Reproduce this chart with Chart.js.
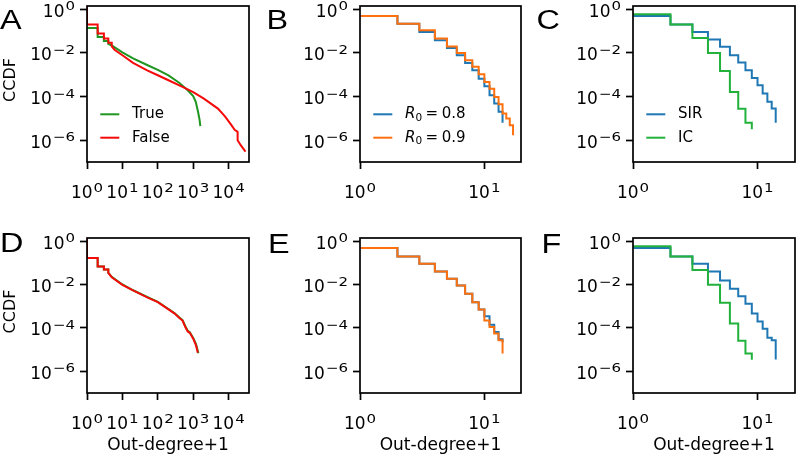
<!DOCTYPE html>
<html><head><meta charset="utf-8">
<script src="https://cdn.jsdelivr.net/npm/chart.js@4"></script>
<style>
html,body{margin:0;padding:0;background:#fff;}
#wrap{position:relative;width:797px;height:464px;overflow:hidden;background:#fff;}
#wrap canvas{position:absolute;}
</style></head><body><div id="wrap"></div>
<script>
// ---------- tick values & labels (10^exp) ----------
const xTicksWide = [1, 10, 100, 1000, 10000];
const xTickExpsWide = ['0', '1', '2', '3', '4'];
const xTicksNarrow = [1, 10];
const xTickExpsNarrow = ['0', '1'];
const yTicks = [1e-6, 1e-4, 1e-2, 1];
const yTickExps = ['\u22126', '\u22124', '\u22122', '0'];

// ---------- panel A ----------
const aTrueX = [1, 2, 2, 3, 3, 4, 4, 5, 10, 20, 50, 100, 200, 400, 700, 1000, 1180, 1370, 1520, 1590];
const aTrueY = [0.14, 0.14, 0.054, 0.054, 0.035, 0.035, 0.026, 0.022, 0.0107, 5.6e-3, 2.8e-3, 1.66e-3, 9.3e-4, 4.3e-4, 1.95e-4, 1.05e-4, 5.8e-5, 2.0e-5, 8.3e-6, 4.4e-6];
const aFalseX = [1, 1, 2, 2, 3, 3, 4, 4, 5, 5, 6, 10, 20, 50, 100, 200, 500, 1000, 2000, 5000, 8000, 12000, 15000, 17000, 18000, 18000, 22000, 30000];
const aFalseY = [1.5, 0.20, 0.20, 0.078, 0.078, 0.046, 0.046, 0.029, 0.029, 0.020, 0.014, 7.8e-3, 3.5e-3, 1.6e-3, 9.5e-4, 5.6e-4, 2.8e-4, 1.6e-4, 8.1e-5, 2.8e-5, 1.2e-5, 4.9e-6, 2.9e-6, 2.6e-6, 2.4e-6, 1.0e-6, 5.9e-7, 3.0e-7];

// ---------- panel D ----------
const dTrueX = [1, 2, 2, 3, 3, 4, 4, 5, 10, 20, 50, 100, 200, 300, 400, 500, 600, 700, 800, 1000, 1200, 1400];
const dTrueY = [0.17, 0.17, 0.068, 0.068, 0.050, 0.050, 0.035, 0.023, 0.0102, 5.5e-3, 2.7e-3, 1.6e-3, 7.5e-4, 4.8e-4, 3.1e-4, 2.3e-4, 1.2e-4, 7.5e-5, 6.4e-5, 3.5e-5, 1.8e-5, 6.8e-6];
const dFalseX = [1, 1, 2, 2, 3, 3, 4, 4, 5, 10, 20, 50, 100, 200, 300, 400, 500, 600, 700, 800, 1000, 1200, 1350];
const dFalseY = [1.5, 0.17, 0.17, 0.068, 0.068, 0.050, 0.050, 0.035, 0.022, 9.8e-3, 5.4e-3, 2.6e-3, 1.55e-3, 7.2e-4, 4.6e-4, 3.0e-4, 2.2e-4, 1.1e-4, 6.9e-5, 6.0e-5, 3.2e-5, 1.6e-5, 7.2e-6];

// ---------- panel B ----------
const bDeg08 = [1, 2, 3, 4, 5, 6, 7, 8, 9, 10, 11, 12, 13, 14];
const bCcdf08 = [0.49, 0.22, 0.091, 0.038, 0.017, 7.9e-3, 3.5e-3, 1.6e-3, 6.6e-4, 3.0e-4, 1.15e-4, 4.8e-5, 2.0e-5, 6.3e-6];
const bDeg09 = [1, 2, 3, 4, 5, 6, 7, 8, 9, 10, 11, 12, 13, 14, 15, 16, 17];
const bCcdf09 = [0.49, 0.22, 0.11, 0.046, 0.020, 0.010, 4.6e-3, 2.3e-3, 1.05e-3, 4.7e-4, 2.3e-4, 9.5e-5, 4.5e-5, 1.66e-5, 1.0e-5, 4.9e-6, 1.7e-6];

// ---------- panel C ----------
const cDegSIR = [1, 2, 3, 4, 5, 6, 7, 8, 9, 10, 11, 12, 13, 14];
const cCcdfSIR = [0.49, 0.20, 0.091, 0.041, 0.019, 7.9e-3, 3.6e-3, 1.6e-3, 7.1e-4, 3.3e-4, 1.4e-4, 5.8e-5, 2.8e-5, 6.3e-6];
const cDegIC = [1, 2, 3, 4, 5, 6, 7, 8, 9];
const cCcdfIC = [0.59, 0.20, 0.049, 0.010, 1.5e-3, 1.6e-4, 2.75e-5, 6.3e-6, 3.2e-6];

// ---------- panel E ----------
const eDeg08 = [1, 2, 3, 4, 5, 6, 7, 8, 9, 10, 11, 12, 13, 14];
const eCcdf08 = [0.49, 0.20, 0.091, 0.040, 0.0186, 9.1e-3, 3.8e-3, 1.55e-3, 7.2e-4, 3.5e-4, 1.4e-4, 6.5e-5, 3.0e-5, 2.2e-5];
const eDeg09 = [1, 2, 3, 4, 5, 6, 7, 8, 9, 10, 11, 12, 13, 14];
const eCcdf09 = [0.49, 0.20, 0.091, 0.040, 0.0186, 9.1e-3, 3.8e-3, 1.55e-3, 7.2e-4, 2.2e-4, 1.1e-4, 5.5e-5, 2.7e-5, 6.6e-6];

// ---------- panel F ----------
const fDegSIR = [1, 2, 3, 4, 5, 6, 7, 8, 9, 10, 11, 12, 13, 14];
const fCcdfSIR = [0.49, 0.20, 0.091, 0.040, 0.0155, 6.5e-3, 2.95e-3, 1.3e-3, 4.6e-4, 2.0e-4, 9.3e-5, 3.5e-5, 2.7e-5, 3.5e-6];
const fDegIC = [1, 2, 3, 4, 5, 6, 7, 8, 9];
const fCcdfIC = [0.59, 0.20, 0.048, 0.010, 1.45e-3, 1.6e-4, 2.6e-5, 6.6e-6, 3.4e-6];

// ---------- styles ----------
const GREEN_A = '#1f961f', RED = '#f50a0a', BLUE = '#1f77b4', ORANGE = '#ff700f', GREEN_C = '#22b23c';
const FONT = '"DejaVu Sans", sans-serif';
const LINE_W = 2;
const SUP_SIZE = 12.5, SUP_STRETCH = 1.2;

const wrap = document.getElementById('wrap');

// draw "10" with a superscript exponent
function drawPow(ctx, exp, x, baseline, align) {
  ctx.font = '17px ' + FONT;
  const wb = ctx.measureText('10').width;
  ctx.font = SUP_SIZE + 'px ' + FONT;
  const ws = ctx.measureText(exp).width * SUP_STRETCH;
  const total = wb + 1 + ws;
  const x0 = align === 'center' ? x - total / 2 : x - total;
  ctx.textAlign = 'left'; ctx.textBaseline = 'alphabetic'; ctx.fillStyle = '#000';
  ctx.font = '17px ' + FONT;
  ctx.fillText('10', x0, baseline);
  ctx.save();
  ctx.translate(x0 + wb + 1, baseline - 6.5);
  ctx.scale(SUP_STRETCH, 1);
  ctx.font = SUP_SIZE + 'px ' + FONT;
  ctx.fillText(exp, 0, 0);
  ctx.restore();
}

function makePanel(cfg) {
  const c = document.createElement('canvas');
  c.width = cfg.w; c.height = cfg.h;
  c.style.left = cfg.cx + 'px'; c.style.top = cfg.cy + 'px';
  c.style.width = cfg.w + 'px'; c.style.height = cfg.h + 'px';
  wrap.appendChild(c);

  const decor = {
    id: 'decor',
    afterDraw(chart) {
      const ctx = chart.ctx, a = chart.chartArea;
      const xs = chart.scales.x, ys = chart.scales.y;
      ctx.save();
      // frame
      ctx.strokeStyle = '#000'; ctx.lineWidth = 1.7;
      ctx.strokeRect(a.left, a.top, a.right - a.left, a.bottom - a.top);
      // tick labels
      cfg.xticks.forEach((v, i) => drawPow(ctx, cfg.xexps[i], xs.getPixelForValue(v), a.bottom + 36, 'center'));
      yTicks.forEach((v, i) => drawPow(ctx, yTickExps[i], a.left - 12, ys.getPixelForValue(v) + 7.5, 'right'));
      // axis titles
      ctx.fillStyle = '#000';
      if (cfg.ytitle) {
        ctx.save();
        ctx.translate(11, (a.top + a.bottom) / 2 - 4);
        ctx.rotate(-Math.PI / 2);
        ctx.font = '16px ' + FONT; ctx.textAlign = 'center'; ctx.textBaseline = 'middle';
        ctx.fillText(cfg.ytitle, 0, 0);
        ctx.restore();
      }
      if (cfg.xtitle) {
        ctx.font = '17px ' + FONT; ctx.textAlign = 'center'; ctx.textBaseline = 'alphabetic';
        ctx.fillText(cfg.xtitle, (a.left + a.right) / 2, a.bottom + 56.5);
      }
      // legend
      if (cfg.legend) {
        cfg.legend.forEach((it, k) => {
          const y = a.top + 108.3 + k * 23.4;
          ctx.strokeStyle = it.color; ctx.lineWidth = LINE_W;
          ctx.beginPath(); ctx.moveTo(a.left + 13.3, y); ctx.lineTo(a.left + 32.3, y); ctx.stroke();
          ctx.fillStyle = '#000'; ctx.textBaseline = 'middle'; ctx.textAlign = 'left';
          let x = a.left + 45;
          if (it.math) {
            ctx.font = 'italic 15px ' + FONT;
            ctx.fillText('R', x, y); x += ctx.measureText('R').width;
            ctx.font = '10.5px ' + FONT;
            ctx.fillText('0', x, y + 4); x += ctx.measureText('0').width + 3.5;
            ctx.font = '15px ' + FONT;
            ctx.fillText('=', x, y); x += ctx.measureText('=').width + 3.5;
            ctx.fillText(it.value, x, y);
          } else {
            ctx.font = '15px ' + FONT;
            ctx.fillText(it.label, x, y);
          }
        });
      }
      // panel letter
      ctx.fillStyle = '#000'; ctx.textBaseline = 'alphabetic'; ctx.textAlign = 'left';
      ctx.font = '27px "Liberation Sans", Arial, sans-serif';
      ctx.translate(cfg.letter.x - cfg.cx, cfg.letter.y - cfg.cy);
      ctx.scale(1.2, 1);
      ctx.fillText(cfg.letter.text, 0, 0);
      ctx.restore();
    }
  };

  new Chart(c, {
    type: 'line',
    data: {
      datasets: cfg.series.map(s => ({
        label: s.label,
        data: s.x.map((x, i) => ({ x: x, y: s.y[i] })),
        borderColor: s.color, backgroundColor: s.color,
        borderWidth: LINE_W, pointRadius: 0, pointHoverRadius: 0,
        fill: false, tension: 0, order: s.order,
        stepped: s.stepped ? 'before' : false
      }))
    },
    options: {
      responsive: false, animation: false, devicePixelRatio: 1,
      events: [],
      layout: { padding: { left: 0, top: cfg.padTop, right: cfg.padRight, bottom: 0 } },
      plugins: { legend: { display: false }, tooltip: { enabled: false }, title: { display: false } },
      scales: {
        x: {
          type: 'logarithmic', min: cfg.xmin, max: cfg.xmax, bounds: 'data',
          afterBuildTicks: s => { s.ticks = cfg.xticks.map(v => ({ value: v })); },
          afterFit: s => { s.height = cfg.xAxisH; s.paddingLeft = 0; s.paddingRight = 0; },
          ticks: { display: false, autoSkip: false, maxRotation: 0, minRotation: 0 },
          grid: { drawOnChartArea: false, drawTicks: true, tickLength: 7, tickWidth: 1.7, tickColor: '#000', color: '#000' },
          border: { display: false }
        },
        y: {
          type: 'logarithmic', min: 1e-7, max: 1.42, bounds: 'data',
          afterBuildTicks: s => { s.ticks = yTicks.map(v => ({ value: v })); },
          afterFit: s => { s.width = cfg.yAxisW; s.paddingTop = 0; s.paddingBottom = 0; },
          ticks: { display: false, autoSkip: false },
          grid: { drawOnChartArea: false, drawTicks: true, tickLength: 7, tickWidth: 1.7, tickColor: '#000', color: '#000' },
          border: { display: false }
        }
      }
    },
    plugins: [decor]
  });
}

// layout geometry (page px)
const cols = [
  { cx: 0, w: 265, left: 87, right: 249 },
  { cx: 265, w: 265, left: 360, right: 521 },
  { cx: 530, w: 267, left: 633, right: 795 }
];
const rows = [
  { cy: 0, h: 230, top: 6, bottom: 162 },
  { cy: 230, h: 234, top: 238, bottom: 393 }
];
function geo(ci, ri) {
  const c = cols[ci], r = rows[ri];
  return { cx: c.cx, w: c.w, cy: r.cy, h: r.h,
    padTop: r.top - r.cy, padRight: c.cx + c.w - c.right,
    yAxisW: c.left - c.cx, xAxisH: r.cy + r.h - r.bottom };
}

makePanel(Object.assign(geo(0, 0), {
  xmin: 1, xmax: 37700, xticks: xTicksWide, xexps: xTickExpsWide, ytitle: 'CCDF',
  letter: { text: 'A', x: 0, y: 28.5 },
  series: [
    { label: 'True', x: aTrueX, y: aTrueY, color: GREEN_A, order: 1 },
    { label: 'False', x: aFalseX, y: aFalseY, color: RED, order: 0 }
  ],
  legend: [{ label: 'True', color: GREEN_A }, { label: 'False', color: RED }]
}));
makePanel(Object.assign(geo(1, 0), {
  xmin: 1, xmax: 19.7, xticks: xTicksNarrow, xexps: xTickExpsNarrow,
  letter: { text: 'B', x: 266.5, y: 28.5 },
  series: [
    { label: 'R0 = 0.8', x: bDeg08, y: bCcdf08, color: BLUE, order: 1, stepped: true },
    { label: 'R0 = 0.9', x: bDeg09, y: bCcdf09, color: ORANGE, order: 0, stepped: true }
  ],
  legend: [{ math: true, value: '0.8', color: BLUE }, { math: true, value: '0.9', color: ORANGE }]
}));
makePanel(Object.assign(geo(2, 0), {
  xmin: 1, xmax: 20, xticks: xTicksNarrow, xexps: xTickExpsNarrow,
  letter: { text: 'C', x: 536.5, y: 28.5 },
  series: [
    { label: 'SIR', x: cDegSIR, y: cCcdfSIR, color: BLUE, order: 1, stepped: true },
    { label: 'IC', x: cDegIC, y: cCcdfIC, color: GREEN_C, order: 0, stepped: true }
  ],
  legend: [{ label: 'SIR', color: BLUE }, { label: 'IC', color: GREEN_C }]
}));
makePanel(Object.assign(geo(0, 1), {
  xmin: 1, xmax: 37700, xticks: xTicksWide, xexps: xTickExpsWide, ytitle: 'CCDF', xtitle: 'Out-degree+1',
  letter: { text: 'D', x: 0, y: 252 },
  series: [
    { label: 'True', x: dTrueX, y: dTrueY, color: GREEN_A, order: 1 },
    { label: 'False', x: dFalseX, y: dFalseY, color: RED, order: 0 }
  ]
}));
makePanel(Object.assign(geo(1, 1), {
  xmin: 1, xmax: 19.7, xticks: xTicksNarrow, xexps: xTickExpsNarrow, xtitle: 'Out-degree+1',
  letter: { text: 'E', x: 268, y: 252.5 },
  series: [
    { label: 'R0 = 0.8', x: eDeg08, y: eCcdf08, color: BLUE, order: 1, stepped: true },
    { label: 'R0 = 0.9', x: eDeg09, y: eCcdf09, color: ORANGE, order: 0, stepped: true }
  ]
}));
makePanel(Object.assign(geo(2, 1), {
  xmin: 1, xmax: 20, xticks: xTicksNarrow, xexps: xTickExpsNarrow, xtitle: 'Out-degree+1',
  letter: { text: 'F', x: 541.5, y: 253 },
  series: [
    { label: 'SIR', x: fDegSIR, y: fCcdfSIR, color: BLUE, order: 1, stepped: true },
    { label: 'IC', x: fDegIC, y: fCcdfIC, color: GREEN_C, order: 0, stepped: true }
  ]
}));
</script>
</body></html>
